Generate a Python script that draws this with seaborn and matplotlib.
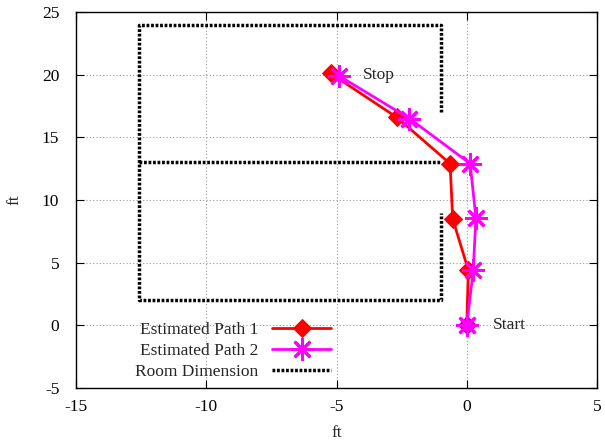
import numpy as np
import pandas as pd
import matplotlib
matplotlib.use('Agg')
import matplotlib.pyplot as plt
import seaborn as sns

# path estimates (ft)
path1_x = [0.0, 0.06, -0.54, -0.64, -2.69, -5.23]
path1_y = [0.0, 4.4, 8.5, 12.9, 16.6, 20.1]
path2_x = [0.0, 0.25, 0.35, 0.13, -2.2, -4.9]
path2_y = [0.0, 4.4, 8.6, 12.9, 16.5, 19.9]

# room outline, NaN separates the pieces
room_x = [-1.0, -1.0, -12.6, -12.6, -1.0, -1.0, np.nan, -12.6, -1.0]
room_y = [17.0, 24.0, 24.0, 2.0, 2.0, 9.0, np.nan, 13.0, 13.0]

p1 = pd.DataFrame({'x': path1_x, 'y': path1_y})
p2 = pd.DataFrame({'x': path2_x, 'y': path2_y})

sns.set_style('ticks')
plt.rcParams['font.family'] = ['Liberation Serif', 'DejaVu Serif']
plt.rcParams['font.size'] = 12.5
plt.rcParams['axes.unicode_minus'] = False

fig = plt.figure(figsize=(6.05, 4.42), dpi=100)
ax = fig.add_axes([0.1256, 0.1222, 0.8612, 0.8507])

sns.lineplot(data=p1, x='x', y='y', sort=False, ax=ax, color='#ff0000', lw=2,
             marker='D', markersize=9, markeredgecolor='#ff0000',
             label='Estimated Path 1', zorder=4)
sns.lineplot(data=p2, x='x', y='y', sort=False, ax=ax, color='#ff00ff', lw=2,
             marker=(8, 2, 0), markersize=16, markeredgewidth=2,
             markeredgecolor='#ff00ff', label='Estimated Path 2', zorder=5)
ax.plot(room_x, room_y, color='black', lw=2.5, linestyle=(0, (0.8, 0.5)),
        label='Room Dimension', zorder=3)

ax.text(-4.0, 20.0, 'Stop', va='center', ha='left')
ax.text(1.0, 0.0, 'Start', va='center', ha='left')

ax.set_xlim(-15, 5)
ax.set_ylim(-5, 25)
ax.set_xticks(range(-15, 6, 5))
ax.set_yticks(range(-5, 26, 5))
ax.grid(True, color='#999999', linestyle=(0, (1, 2)), lw=0.8)
ax.tick_params(direction='in', top=True, right=True, length=6, colors='black')
ax.tick_params(axis='x', pad=8)
ax.tick_params(axis='y', pad=12)
for s in ax.spines.values():
    s.set_color('black')
    s.set_linewidth(1)
ax.set_xlabel('ft', labelpad=7)
ax.set_ylabel('ft', labelpad=14)

ax.legend(loc='lower left', bbox_to_anchor=(0.09, -0.012), frameon=False,
          markerfirst=False, handlelength=3.4, labelspacing=0.3,
          handletextpad=0.8, borderaxespad=0.3)

plt.savefig('out.png', dpi=100)
